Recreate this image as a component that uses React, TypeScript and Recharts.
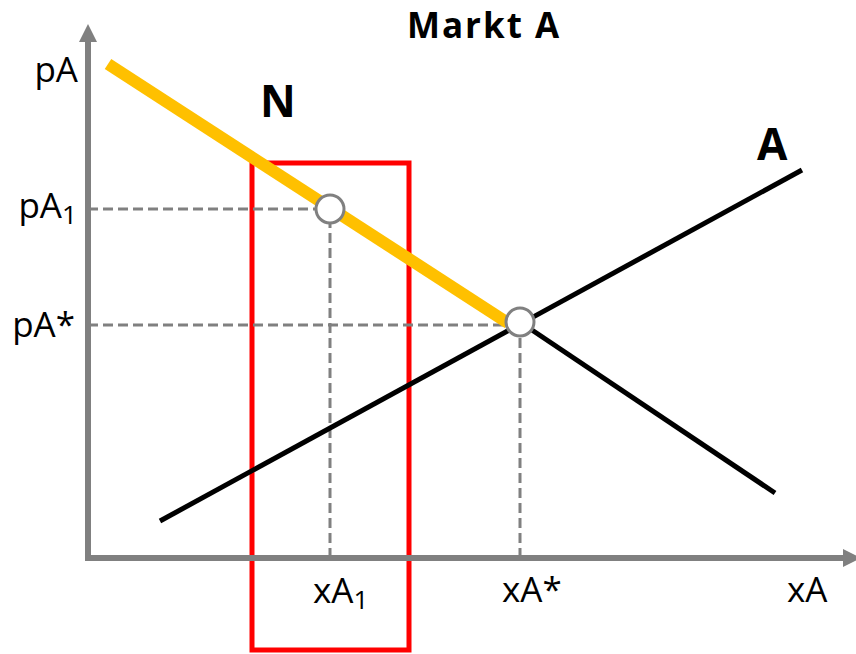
import React from "react";
import {
  ComposedChart,
  Line,
  XAxis,
  YAxis,
  ReferenceArea,
  ReferenceDot,
} from "recharts";

// Plot units: x grows right from the price axis, y grows up from the quantity axis
const demandN = [
  { x: 20, y: 493 },
  { x: 420, y: 234 },
];
const supplyA = [
  { x: 72, y: 36 },
  { x: 714, y: 387 },
];
const demandRest = [
  { x: 432, y: 235 },
  { x: 687, y: 64 },
];

const price1 = 348;
const quantity1 = 242;
const priceStar = 232;
const quantityStar = 432;
const equilibrium = { x: 432, y: 235 };
const pointOne = { x: 242, y: 348 };

const dashH1 = [
  { x: 0, y: price1 },
  { x: quantity1, y: price1 },
];
const dashV1 = [
  { x: quantity1, y: -1 },
  { x: quantity1, y: price1 },
];
const dashHStar = [
  { x: 0, y: priceStar },
  { x: quantityStar, y: priceStar },
];
const dashVStar = [
  { x: quantityStar, y: -1 },
  { x: quantityStar, y: equilibrium.y },
];

const yAxisLine = [
  { x: 0, y: -4 },
  { x: 0, y: 515 },
];
const xAxisLine = [
  { x: -3, y: -1 },
  { x: 755, y: -1 },
];

// red box around xA1
const boxX = [164, 321];
const boxY = [-93, 394];

const yLabels = [
  { text: "pA", sub: "", x: -10, y: 475 },
  { text: "pA", sub: "1", x: -11, y: 339 },
  { text: "pA*", sub: "", x: -13, y: 220 },
];
const xLabels = [
  { text: "xA", sub: "1", x: 225, y: -46 },
  { text: "xA*", sub: "", x: 414, y: -45 },
  { text: "xA", sub: "", x: 699, y: -45 },
];
const curveLabels = [
  { text: "N", x: 172, y: 440 },
  { text: "A", x: 669, y: 397 },
];
const title = { text: "Markt A", x: 396, y: 519 };

const GRAY = "#808080";
const FONT = "'Open Sans', sans-serif";

const textShape =
  (text: string, sub: string, anchor: string, size: number, bold = false, spacing = 0) =>
  (props: any) =>
    (
      <text
        x={props.cx}
        y={props.cy}
        textAnchor={anchor}
        fontSize={size}
        fontWeight={bold ? 700 : 400}
        fontFamily={FONT}
        letterSpacing={spacing}
        fill="#000"
      >
        {text}
        {sub ? (
          <tspan fontSize={size * 0.75} dy={6}>
            {sub}
          </tspan>
        ) : null}
      </text>
    );

const upArrow = (props: any) => (
  <polygon
    points={`${props.cx - 9},${props.cy} ${props.cx + 9},${props.cy} ${props.cx},${props.cy - 18}`}
    fill={GRAY}
  />
);
const rightArrow = (props: any) => (
  <polygon
    points={`${props.cx},${props.cy - 9} ${props.cx},${props.cy + 9} ${props.cx + 18},${props.cy}`}
    fill={GRAY}
  />
);

const lineProps = {
  dataKey: "y",
  dot: false,
  activeDot: false,
  isAnimationActive: false,
  legendType: "none" as const,
};

export default function App() {
  return (
    <div style={{ position: "absolute", left: 0, top: 0 }}>
      <ComposedChart
        width={856}
        height={654}
        margin={{ top: 0, right: 0, bottom: 0, left: 0 }}
      >
        <XAxis type="number" dataKey="x" domain={[-88, 768]} allowDataOverflow hide />
        <YAxis type="number" dataKey="y" domain={[-97, 557]} allowDataOverflow hide />

        <Line {...lineProps} data={yAxisLine} stroke={GRAY} strokeWidth={6} />
        <Line {...lineProps} data={xAxisLine} stroke={GRAY} strokeWidth={6} />
        <ReferenceDot x={0} y={515} r={0} shape={upArrow} />
        <ReferenceDot x={755} y={-1} r={0} shape={rightArrow} />

        <Line {...lineProps} data={dashH1} stroke={GRAY} strokeWidth={3} strokeDasharray="10 5" />
        <Line {...lineProps} data={dashV1} stroke={GRAY} strokeWidth={3} strokeDasharray="10 5" />
        <Line {...lineProps} data={dashHStar} stroke={GRAY} strokeWidth={3} strokeDasharray="10 5" />
        <Line {...lineProps} data={dashVStar} stroke={GRAY} strokeWidth={3} strokeDasharray="10 5" />

        <Line {...lineProps} data={supplyA} stroke="#000" strokeWidth={5} />
        <Line {...lineProps} data={demandRest} stroke="#000" strokeWidth={5} />
        <Line {...lineProps} data={demandN} stroke="#FFC000" strokeWidth={12} />

        <ReferenceArea
          x1={boxX[0]}
          x2={boxX[1]}
          y1={boxY[0]}
          y2={boxY[1]}
          fill="none"
          fillOpacity={0}
          stroke="#FF0000"
          strokeWidth={5}
        />

        <ReferenceDot x={pointOne.x} y={pointOne.y} r={14} fill="#fff" stroke={GRAY} strokeWidth={3} />
        <ReferenceDot x={equilibrium.x} y={equilibrium.y} r={14} fill="#fff" stroke={GRAY} strokeWidth={3} />

        {yLabels.map((l, i) => (
          <ReferenceDot key={"y" + i} x={l.x} y={l.y} r={0} shape={textShape(l.text, l.sub, "end", 35)} />
        ))}
        {xLabels.map((l, i) => (
          <ReferenceDot key={"x" + i} x={l.x} y={l.y} r={0} shape={textShape(l.text, l.sub, "start", 35)} />
        ))}
        {curveLabels.map((l, i) => (
          <ReferenceDot key={"c" + i} x={l.x} y={l.y} r={0} shape={textShape(l.text, "", "start", 44, true)} />
        ))}
        <ReferenceDot x={title.x} y={title.y} r={0} shape={textShape(title.text, "", "middle", 35, true, 2)} />
      </ComposedChart>
    </div>
  );
}
